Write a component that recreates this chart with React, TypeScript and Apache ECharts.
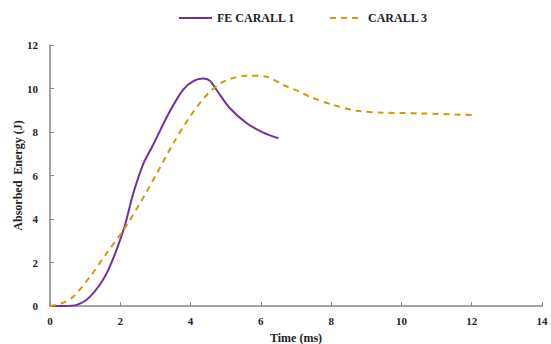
import React, { useEffect, useRef } from "react";
import * as echarts from "echarts";

const feTime = [0, 0.4, 0.76, 1.14, 1.61, 2.09, 2.37, 2.66, 2.9, 3.41, 3.79, 4.08, 4.36, 4.55, 4.74, 5.12, 5.6, 6.07, 6.5];
const feEnergy = [0, 0, 0.05, 0.43, 1.5, 3.49, 5.18, 6.56, 7.3, 8.95, 9.95, 10.34, 10.46, 10.36, 9.93, 9.09, 8.4, 7.97, 7.71];

const c3Time = [0, 0.3, 0.66, 1.14, 1.61, 2.09, 2.56, 3.04, 3.51, 3.98, 4.46, 4.93, 5.6, 6.17, 6.64, 7.11, 7.4, 8.06, 8.73, 9.49, 10.44, 12.0];
const c3Energy = [0, 0.1, 0.43, 1.35, 2.42, 3.49, 4.72, 6.1, 7.48, 8.7, 9.7, 10.31, 10.59, 10.54, 10.16, 9.85, 9.62, 9.24, 8.98, 8.89, 8.86, 8.78];

const xTicks = [0, 2, 4, 6, 8, 10, 12, 14];
const yTicks = [0, 2, 4, 6, 8, 10, 12];

const FONT = "Liberation Serif";

export default function App() {
  const ref = useRef<HTMLDivElement>(null);
  useEffect(() => {
    if (!ref.current) return;
    const chart = echarts.init(ref.current, undefined, { renderer: "svg" });
    const axisColor = "#868686";
    chart.setOption({
      animation: false,
      textStyle: { fontFamily: FONT },
      legend: {
        top: 7,
        left: 173,
        itemWidth: 33,
        itemHeight: 10,
        itemGap: 34,
        itemStyle: { opacity: 0 },
        textStyle: { fontFamily: FONT, fontWeight: "bold", fontSize: 12, color: "#222" },
        data: ["FE CARALL 1", "CARALL 3"],
      },
      grid: { left: 50, right: 9, top: 45, bottom: 38, outerBoundsMode: "none" },
      xAxis: {
        type: "value",
        min: xTicks[0],
        max: xTicks[xTicks.length - 1],
        interval: 2,
        name: "Time (ms)",
        nameLocation: "middle",
        nameGap: 26,
        nameMoveOverlap: false,
        nameTextStyle: { fontFamily: FONT, fontWeight: "bold", fontSize: 12, color: "#222" },
        axisLine: { lineStyle: { color: axisColor, width: 1.5 } },
        axisTick: { inside: true, length: 4, lineStyle: { color: axisColor } },
        axisLabel: { fontFamily: FONT, fontWeight: "bold", fontSize: 11, color: "#222", margin: 9 },
        splitLine: { show: false },
      },
      yAxis: {
        type: "value",
        min: yTicks[0],
        max: yTicks[yTicks.length - 1],
        interval: 2,
        name: "Absorbed  Energy (J)",
        nameLocation: "middle",
        nameGap: 26,
        nameMoveOverlap: false,
        nameTextStyle: { fontFamily: FONT, fontWeight: "bold", fontSize: 12, color: "#222" },
        axisLine: { show: true, lineStyle: { color: axisColor, width: 1.5 } },
        axisTick: { show: true, inside: true, length: 4, lineStyle: { color: axisColor } },
        axisLabel: { fontFamily: FONT, fontWeight: "bold", fontSize: 11, color: "#222", margin: 12 },
        splitLine: { show: false },
      },
      series: [
        {
          name: "FE CARALL 1",
          type: "line",
          smooth: 0.3,
          showSymbol: false,
          symbol: "none",
          data: feTime.map((t, i) => [t, feEnergy[i]]),
          lineStyle: { color: "#7030A0", width: 2 },
          itemStyle: { color: "#7030A0" },
        },
        {
          name: "CARALL 3",
          type: "line",
          smooth: 0.3,
          showSymbol: false,
          symbol: "none",
          data: c3Time.map((t, i) => [t, c3Energy[i]]),
          lineStyle: { color: "#CC9F00", width: 2, type: [6, 5] },
          itemStyle: { color: "#CC9F00" },
        },
      ],
    });
    return () => chart.dispose();
  }, []);
  return <div ref={ref} style={{ width: 551, height: 344, position: "absolute", left: 0, top: 0 }} />;
}
